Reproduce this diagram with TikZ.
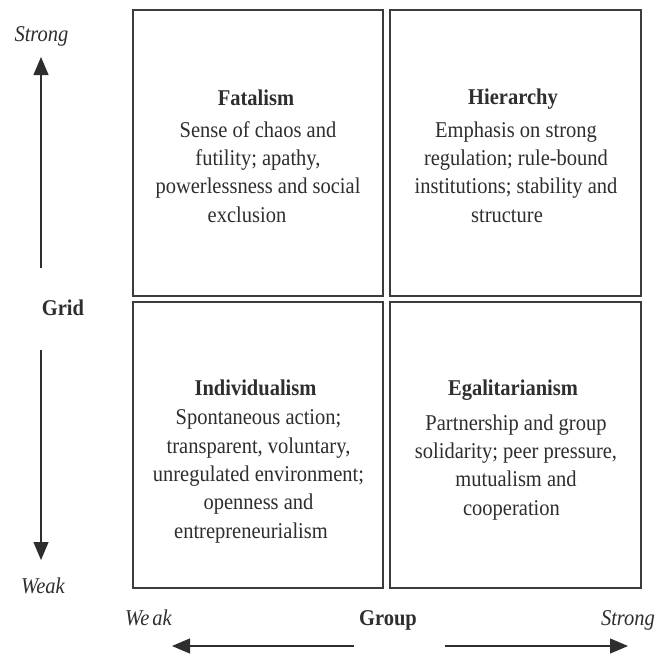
\documentclass[tikz,border=0pt]{standalone}
\usepackage{fontspec}
\setmainfont{Liberation Serif}
\usetikzlibrary{arrows.meta}
\definecolor{ink}{HTML}{2E2E2E}
\definecolor{frame}{HTML}{3C3C3C}
\begin{document}
\begin{tikzpicture}[x=1pt,y=-1pt,
  cell/.style={draw=frame,line width=1.6pt,rectangle,inner sep=0pt,minimum width=#1,minimum height=286pt},
  txt/.style={inner sep=0pt,anchor=base,text=ink,yscale=1.1,transform shape,
    font=\fontsize{20.5}{25.7}\selectfont},
  title/.style={txt,font=\fontsize{20.5}{25.7}\selectfont\bfseries},
  body/.style={txt,align=center},
  side/.style={txt,font=\fontsize{20.5}{25.7}\selectfont\itshape},
  axis/.style={draw=ink,line width=1.1pt,-{Triangle[length=18pt,width=15pt]}}]
\useasboundingbox[fill=white] (0,0) rectangle (656,654);

% the four cells of the grid-group scheme
\node[cell=250pt] (fat) at (258,153) {};
\node[cell=251pt] (hie) at (515.5,153) {};
\node[cell=250pt] (ind) at (258,445) {};
\node[cell=251pt] (ega) at (515.5,445) {};

% cell contents (body texts sit on the baseline of their last line)
\node[title] (fatT) at (256,105) {Fatalism};
\node[body]  (fatB) at (258,222) {Sense of chaos and\\futility; apathy,\\powerlessness and social\\exclusion\hspace*{22pt}};

\node[title] (hieT) at (513,104) {Hierarchy};
\node[body]  (hieB) at (516,222) {Emphasis on strong\\regulation; rule-bound\\institutions; stability and\\structure\hspace*{18pt}};

\node[title] (indT) at (255.5,395) {Individualism};
\node[body]  (indB) at (258.5,538) {Spontaneous action;\\transparent, voluntary,\\unregulated environment;\\openness and\\entrepreneurialism\hspace*{15pt}};

\node[title] (egaT) at (513,395) {Egalitarianism};
\node[body]  (egaB) at (516,515) {Partnership and group\\solidarity; peer pressure,\\mutualism and\\cooperation\hspace*{9pt}};

% grid axis (vertical)
\node[side]  (gStrong) at (41.5,41) {Strong};
\node[title] (grid) at (63,315) {Grid};
\node[side]  (gWeak) at (43,593) {Weak};
\coordinate (gUp0) at (41,268);
\coordinate (gUp1) at (41,57);
\coordinate (gDn0) at (41,350);
\coordinate (gDn1) at (41,560);
\draw[axis] (gUp0) -- (gUp1);
\draw[axis] (gDn0) -- (gDn1);

% group axis (horizontal)
\node[side]  (hWeak) at (148.5,625) {We\hspace{3pt}ak};
\node[title] (group) at (388,625) {Group};
\node[side]  (hStrong) at (628,625) {Strong};
\coordinate (hL0) at (354,646);
\coordinate (hL1) at (172,646);
\coordinate (hR0) at (445,646);
\coordinate (hR1) at (628,646);
\draw[axis] (hL0) -- (hL1);
\draw[axis] (hR0) -- (hR1);
\end{tikzpicture}
\end{document}
